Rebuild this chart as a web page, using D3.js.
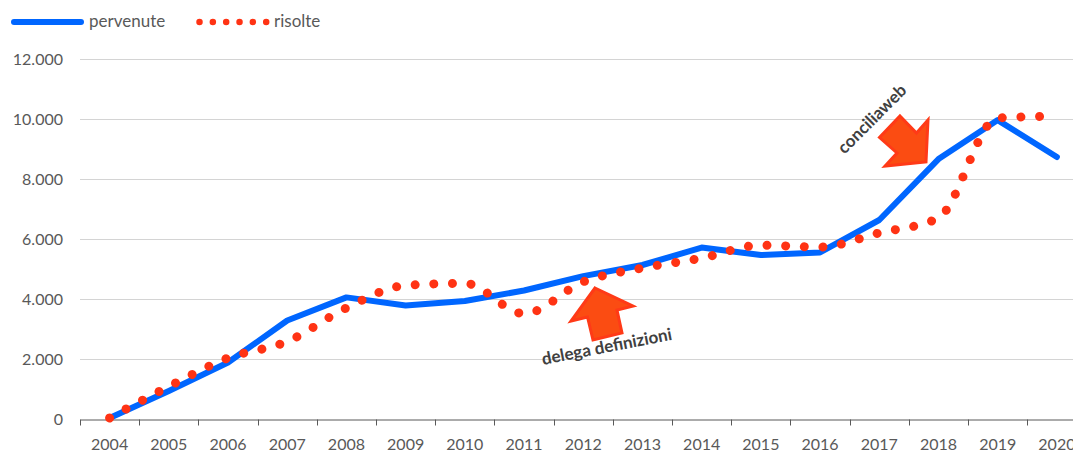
<!DOCTYPE html>
<html><head><meta charset="utf-8">
<script src="https://cdn.jsdelivr.net/npm/d3@7/dist/d3.min.js"></script>
<style>html,body{margin:0;padding:0;background:#fff;overflow:hidden}svg{display:block}text{font-family:Lato,"Open Sans",sans-serif;fill:#595959}</style>
</head><body><div id="c"></div>
<script>
const years = ["2004","2005","2006","2007","2008","2009","2010","2011","2012","2013","2014","2015","2016","2017","2018","2019","2020"];
const pervenute = [50,950,1900,3300,4070,3800,3950,4300,4780,5150,5730,5480,5570,6650,8680,9980,8750];
const risolte = [50,1100,2050,2600,3720,4470,4540,3530,4590,5050,5380,5810,5750,6220,6720,10050,10110];
const yTicks = [0,2000,4000,6000,8000,10000,12000];
const W=1073,H=452;
const x=d3.scaleBand().domain(years).range([80,1086.5]);
const y=d3.scaleLinear().domain([0,12000]).range([419.5,59.5]);
const svg=d3.select("#c").append("svg").attr("width",W).attr("height",H);
const fmt=d=>d3.format(",")(d).replace(/,/g,".");
const cx=d=>x(d)+x.bandwidth()/2;

svg.append("g").selectAll("line").data(yTicks.filter(d=>d>0)).join("line")
 .attr("x1",80).attr("x2",W).attr("y1",d=>y(d)).attr("y2",d=>y(d))
 .attr("stroke","#d4d4d4").attr("stroke-width",1);
const ya=svg.append("g").attr("transform","translate(80,0)").call(d3.axisLeft(y).tickValues(yTicks).tickFormat(fmt).tickSize(0).tickPadding(17));
ya.select(".domain").remove();
ya.selectAll("text").attr("font-size",16).style("font-family","Lato").style("fill","#595959");
const xa=svg.append("g").attr("transform","translate(0,419.5)").call(d3.axisBottom(x).tickSizeOuter(0).tickSize(0).tickPadding(19));
xa.select(".domain").attr("stroke","#595959");
xa.selectAll("text").attr("font-size",16).style("font-family","Lato").style("fill","#595959");
svg.append("g").selectAll("line").data(years).join("line")
 .attr("x1",d=>Math.round(x(d))+0.5).attr("x2",d=>Math.round(x(d))+0.5).attr("y1",419.5).attr("y2",425.5)
 .attr("stroke","#595959");

const line=d3.line().x((d,i)=>cx(years[i])).y(d=>y(d));
svg.append("path").datum(pervenute).attr("d",line).attr("fill","none").attr("stroke","#0066ff")
 .attr("stroke-width",6).attr("stroke-linejoin","round").attr("stroke-linecap","round");
svg.append("path").datum(risolte).attr("d",line.curve(d3.curveMonotoneX)).attr("fill","none").attr("stroke","#ff3314")
 .attr("stroke-width",9).attr("stroke-linecap","round").attr("stroke-dasharray","0.01 18.64");

const lg=svg.append("g");
lg.append("line").attr("x1",14).attr("x2",81).attr("y1",22).attr("y2",22).attr("stroke","#0066ff").attr("stroke-width",6).attr("stroke-linecap","round");
lg.append("text").attr("x",89).attr("y",27).attr("font-size",17).text("pervenute");
lg.append("line").attr("x1",199.5).attr("x2",268).attr("y1",22).attr("y2",22).attr("stroke","#ff3314").attr("stroke-width",6.5).attr("stroke-linecap","round").attr("stroke-dasharray","0.01 13.33");
lg.append("text").attr("x",274).attr("y",27).attr("font-size",17).text("risolte");

const arrow=d3.line().curve(d3.curveLinearClosed);
const a1=[[595,288],[633,306],[617,310],[622,333],[593,340],[587.5,317],[571,321]];
const a2=[[900,116],[916.5,133],[928,120],[926,162],[885,166],[897,153],[879.5,137.5]];
[a1,a2].forEach(p=>svg.append("path").attr("d",arrow(p)).attr("fill","#fb4c12").attr("stroke","#ff3a17").attr("stroke-width",3).attr("stroke-linejoin","miter"));
svg.append("text").attr("transform","translate(607,348) rotate(-11)").attr("text-anchor","middle").attr("dominant-baseline","middle").attr("font-size",17).attr("font-weight",700).style("fill","#404040").text("delega definizioni");
svg.append("text").attr("transform","translate(873,120) rotate(-45)").attr("text-anchor","middle").attr("dominant-baseline","middle").attr("font-size",17).attr("font-weight",700).style("fill","#404040").text("conciliaweb");
</script></body></html>
